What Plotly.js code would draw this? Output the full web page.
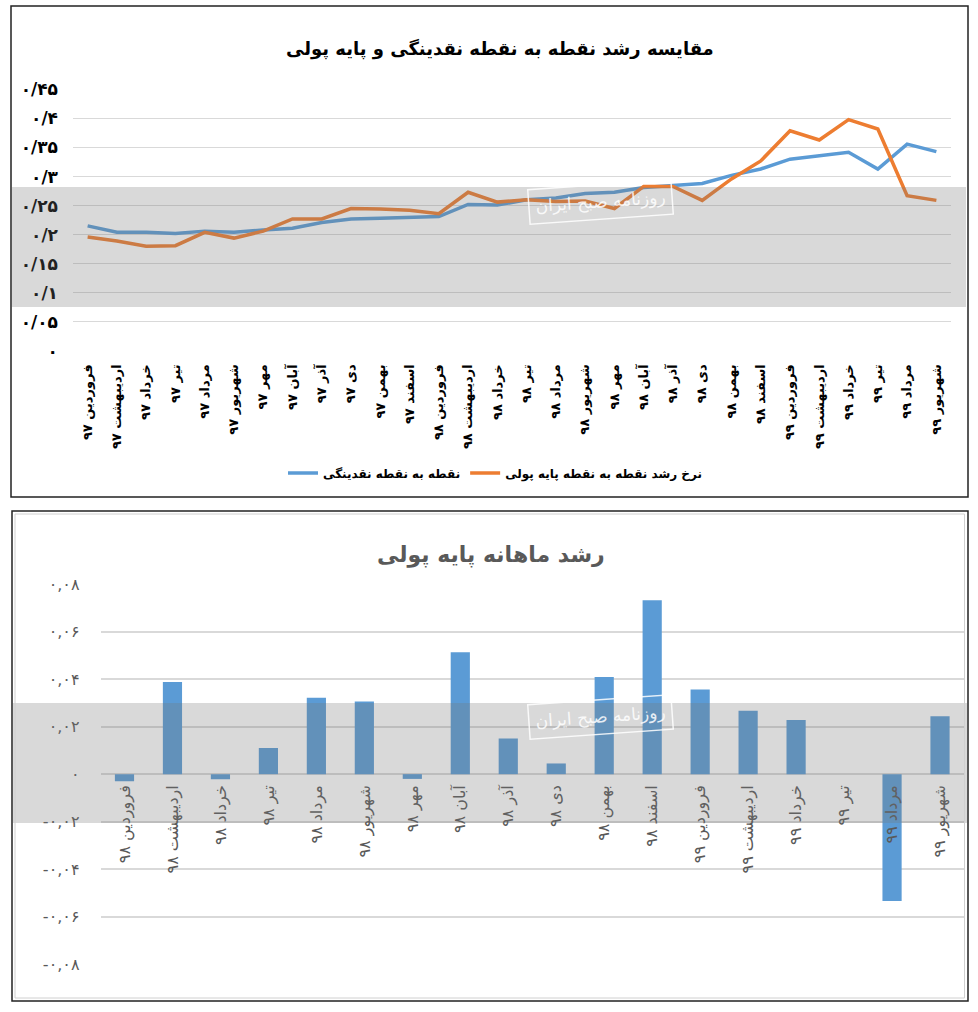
<!DOCTYPE html>
<html><head><meta charset="utf-8">
<script src="https://cdn.plot.ly/plotly-3.0.1.min.js"></script>
<style>html,body{margin:0;padding:0;background:#fff}#chart{width:978px;height:1012px}</style>
</head><body><div id="chart"></div>
<script>
// ---------- data: top chart (point-to-point growth) ----------
const lineCategories = ["فروردین ۹۷", "اردیبهشت ۹۷", "خرداد ۹۷", "تیر ۹۷", "مرداد ۹۷", "شهریور ۹۷", "مهر ۹۷", "آبان ۹۷", "آذر ۹۷", "دی ۹۷", "بهمن ۹۷", "اسفند ۹۷", "فروردین ۹۸", "اردیبهشت ۹۸", "خرداد ۹۸", "تیر ۹۸", "مرداد ۹۸", "شهریور ۹۸", "مهر ۹۸", "آبان ۹۸", "آذر ۹۸", "دی ۹۸", "بهمن ۹۸", "اسفند ۹۸", "فروردین ۹۹", "اردیبهشت ۹۹", "خرداد ۹۹", "تیر ۹۹", "مرداد ۹۹", "شهریور ۹۹"];
const liquidityGrowth = [0.215, 0.204, 0.204, 0.202, 0.206, 0.204, 0.208, 0.211, 0.221, 0.227, 0.228, 0.230, 0.231, 0.252, 0.251, 0.260, 0.263, 0.271, 0.273, 0.281, 0.284, 0.288, 0.302, 0.313, 0.330, 0.336, 0.342, 0.313, 0.356, 0.343];
const monetaryBaseGrowth = [0.196, 0.189, 0.180, 0.181, 0.204, 0.194, 0.206, 0.227, 0.227, 0.245, 0.244, 0.242, 0.236, 0.273, 0.256, 0.260, 0.257, 0.258, 0.245, 0.283, 0.283, 0.259, 0.296, 0.327, 0.379, 0.363, 0.398, 0.382, 0.267, 0.259];
const liquidityName = "نقطه به نقطه نقدینگی";
const monetaryBaseName = "نرخ رشد نقطه به نقطه پایه پولی";
const lineTitle = "مقایسه رشد نقطه به نقطه نقدینگی و پایه پولی";
const lineTickVals = [0, 0.05, 0.1, 0.15, 0.2, 0.25, 0.3, 0.35, 0.4, 0.45];
const lineTickText = ["۰", "۰/۰۵", "۰/۱", "۰/۱۵", "۰/۲", "۰/۲۵", "۰/۳", "۰/۳۵", "۰/۴", "۰/۴۵"];

// ---------- data: bottom chart (monthly growth of monetary base) ----------
const barCategories = ["فروردین ۹۸", "اردیبهشت ۹۸", "خرداد ۹۸", "تیر ۹۸", "مرداد ۹۸", "شهریور ۹۸", "مهر ۹۸", "آبان ۹۸", "آذر ۹۸", "دی ۹۸", "بهمن ۹۸", "اسفند ۹۸", "فروردین ۹۹", "اردیبهشت ۹۹", "خرداد ۹۹", "تیر ۹۹", "مرداد ۹۹", "شهریور ۹۹"];
const monthlyBaseGrowth = [-0.003, 0.0388, -0.0022, 0.011, 0.0322, 0.0306, -0.002, 0.0514, 0.015, 0.0045, 0.0409, 0.0733, 0.0357, 0.0267, 0.0228, 0, -0.0535, 0.0244];
const barTitle = "رشد ماهانه پایه پولی";
const barTickVals = [-0.08, -0.06, -0.04, -0.02, 0, 0.02, 0.04, 0.06, 0.08];
const barTickText = ["-۰,۰۸", "-۰,۰۶", "-۰,۰۴", "-۰,۰۲", "۰", "۰,۰۲", "۰,۰۴", "۰,۰۶", "۰,۰۸"];
const watermarkText = "روزنامه صبح ایران";

// ---------- layout helpers ----------
const W = 978, H = 1012;
const px = x => x / W;
const py = y => 1 - y / H;
const FONT = "DejaVu Sans";
const BLUE = "#5b9bd5", ORANGE = "#ed7d31", GRID = "#d9d9d9", GREY = "#595959";

const traces = [
  {type: "scatter", mode: "lines", x: lineCategories, y: liquidityGrowth, name: liquidityName,
   line: {color: BLUE, width: 3.5, shape: "linear"}, xaxis: "x", yaxis: "y"},
  {type: "scatter", mode: "lines", x: lineCategories, y: monetaryBaseGrowth, name: monetaryBaseName,
   line: {color: ORANGE, width: 3.5, shape: "linear"}, xaxis: "x", yaxis: "y"},
  {type: "bar", x: barCategories, y: monthlyBaseGrowth, marker: {color: BLUE}, showlegend: false,
   xaxis: "x2", yaxis: "y2"}
];

const layout = {
  width: W, height: H,
  margin: {l: 0, r: 0, t: 0, b: 0},
  paper_bgcolor: "#ffffff", plot_bgcolor: "rgba(0,0,0,0)",
  font: {family: FONT},
  bargap: 0.6,
  xaxis: {domain: [px(73), px(951)], anchor: "y", type: "category", range: [-0.5, lineCategories.length - 0.5],
    tickangle: -90, showgrid: false, zeroline: false, showline: false, ticks: "", ticklabelstandoff: 10,
    tickfont: {family: FONT, size: 13, color: "#000", weight: "bold"}},
  yaxis: {domain: [py(350.7), py(89.5)], anchor: "x", range: [0, 0.45],
    tickvals: lineTickVals, ticktext: lineTickText, showgrid: true, gridcolor: GRID, gridwidth: 1.5,
    zeroline: false, showline: false, ticks: "", ticklabelstandoff: 14,
    tickfont: {family: FONT, size: 17, color: "#000", weight: "bold"}},
  xaxis2: {domain: [px(100.5), px(964)], anchor: "free", position: py(774), type: "category",
    range: [-0.5, barCategories.length - 0.5], tickangle: -90,
    showgrid: false, zeroline: false, showline: false, ticks: "", ticklabelstandoff: 7,
    tickfont: {family: FONT, size: 16, color: GREY}},
  yaxis2: {domain: [py(964), py(584.3)], anchor: "x2", range: [-0.08, 0.08],
    tickvals: barTickVals, ticktext: barTickText, showgrid: true, gridcolor: GRID, gridwidth: 2,
    zeroline: false, showline: false, ticks: "", ticklabelstandoff: 20,
    tickfont: {family: FONT, size: 16, color: GREY}},
  showlegend: true,
  legend: {orientation: "h", x: px(495), xanchor: "center", y: py(473), yanchor: "middle",
    itemwidth: 30, bgcolor: "rgba(0,0,0,0)", tracegroupgap: 0,
    font: {family: FONT, size: 12, color: "#000", weight: "bold"}},
  annotations: [
    {text: lineTitle, xref: "paper", yref: "paper", x: px(500), y: py(49), xanchor: "center", yanchor: "middle",
     showarrow: false, font: {family: FONT, size: 18, color: "#000", weight: "bold"}},
    {text: barTitle, xref: "paper", yref: "paper", x: px(491), y: py(555), xanchor: "center", yanchor: "middle",
     showarrow: false, font: {family: FONT, size: 22, color: GREY, weight: "bold"}},
    {text: watermarkText, xref: "paper", yref: "paper", x: px(600), y: py(202), xanchor: "center", yanchor: "middle",
     showarrow: false, textangle: -4, bordercolor: "rgba(255,255,255,0.85)", borderwidth: 1.5, borderpad: 6,
     font: {family: FONT, size: 17, color: "rgba(255,255,255,0.85)"}},
    {text: watermarkText, xref: "paper", yref: "paper", x: px(600), y: py(717), xanchor: "center", yanchor: "middle",
     showarrow: false, textangle: -4, bordercolor: "rgba(255,255,255,0.85)", borderwidth: 1.5, borderpad: 6,
     font: {family: FONT, size: 17, color: "rgba(255,255,255,0.85)"}}
  ],
  shapes: [
    // grey bands
    {type: "rect", xref: "paper", yref: "paper", x0: px(12), x1: px(966), y0: py(307), y1: py(187),
     fillcolor: "rgba(120,120,120,0.28)", line: {width: 0}, layer: "above"},
    {type: "rect", xref: "paper", yref: "paper", x0: px(13), x1: px(967), y0: py(823), y1: py(703),
     fillcolor: "rgba(120,120,120,0.28)", line: {width: 0}, layer: "above"},
    // frames
    {type: "rect", xref: "paper", yref: "paper", x0: px(11), x1: px(968), y0: py(497), y1: py(6),
     line: {color: "#222", width: 1.5}, fillcolor: "rgba(0,0,0,0)", layer: "above"},
    {type: "rect", xref: "paper", yref: "paper", x0: px(15), x1: px(964.5), y0: py(998), y1: py(514),
     line: {color: "#d0d0d0", width: 1}, fillcolor: "rgba(0,0,0,0)", layer: "above"},
    {type: "rect", xref: "paper", yref: "paper", x0: px(12), x1: px(968), y0: py(1001), y1: py(511),
     line: {color: "#222", width: 1.5}, fillcolor: "rgba(0,0,0,0)", layer: "above"}
  ]
};

Plotly.newPlot("chart", traces, layout, {displayModeBar: false, staticPlot: true});
</script>
</body></html>
